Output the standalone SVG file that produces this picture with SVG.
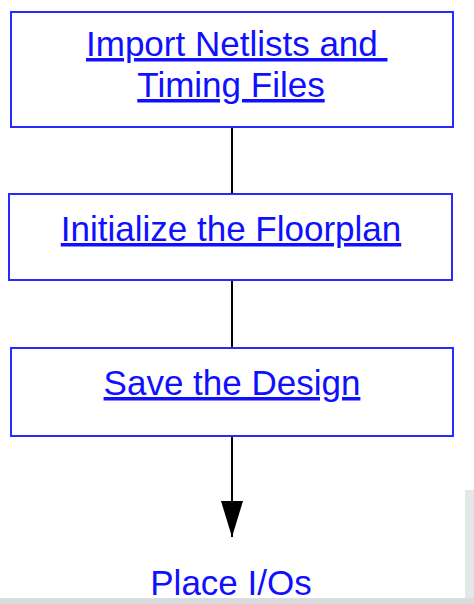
<svg xmlns="http://www.w3.org/2000/svg" width="474" height="604" viewBox="0 0 474 604">
<style>
.box{fill:#ffffff;stroke:#2a2aff;stroke-width:2}
.lbl{font-family:"Liberation Sans",Arial,sans-serif;font-size:35px;fill:#1010ff;text-decoration:underline;white-space:pre}
.plain{font-family:"Liberation Sans",Arial,sans-serif;font-size:35px;fill:#1010ff}
.conn{stroke:#000;stroke-width:2;fill:none}
</style>
<defs>
<marker id="arrow" markerWidth="36" markerHeight="22" refX="36" refY="11" orient="auto" markerUnits="userSpaceOnUse" viewBox="0 0 36 22">
<path d="M0,0 L36,11 L0,22 Z" fill="#000"/>
</marker>
</defs>
<rect x="0" y="0" width="474" height="604" fill="#ffffff"/>
<rect x="465" y="490" width="9" height="114" fill="#e4e7e8"/>
<rect x="0" y="598" width="474" height="6" fill="#d9dcdc"/>
<g id="connectors">
<line class="conn" x1="232" y1="128" x2="232" y2="194"/>
<line class="conn" x1="232" y1="280" x2="232" y2="348"/>
<line class="conn" x1="232" y1="436" x2="232" y2="537" marker-end="url(#arrow)"/>
</g>
<g id="node1">
<rect class="box" x="11" y="12" width="442" height="115"/>
<text class="lbl" x="86" y="56">Import Netlists and </text>
<text class="lbl" x="231" y="97" text-anchor="middle">Timing Files</text>
</g>
<g id="node2">
<rect class="box" x="9" y="194" width="443" height="86"/>
<text class="lbl" x="231" y="241" text-anchor="middle">Initialize the Floorplan</text>
</g>
<g id="node3">
<rect class="box" x="11" y="348" width="442" height="88"/>
<text class="lbl" x="232" y="395" text-anchor="middle">Save the Design</text>
</g>
<g id="node4">
<text class="plain" x="231" y="595" text-anchor="middle">Place I/Os</text>
</g>
</svg>
